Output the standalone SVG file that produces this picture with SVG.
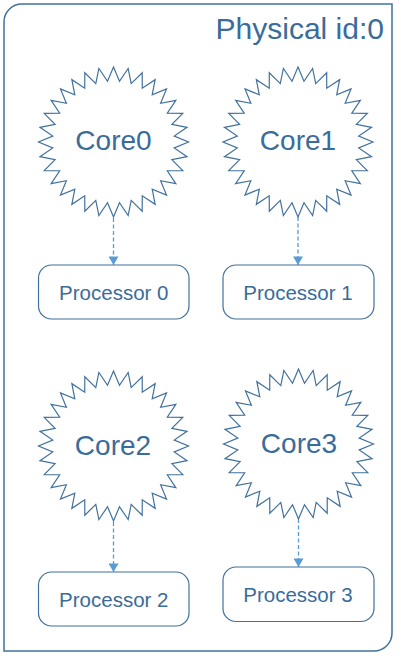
<svg xmlns="http://www.w3.org/2000/svg" width="401" height="659" viewBox="0 0 401 659">
<style>
.frame{fill:#fff;stroke:#41719C;stroke-width:1.5}
.star{fill:#fff;stroke:#41719C;stroke-width:1.2;stroke-linejoin:miter}
.proc{fill:#fff;stroke:#41719C;stroke-width:1.2}
.core-t{font-family:"Liberation Sans",Arial,sans-serif;font-size:28px;fill:#3A6C9B;text-anchor:middle}
.proc-t{font-family:"Liberation Sans",Arial,sans-serif;font-size:20.5px;fill:#3A6C9B;text-anchor:middle}
.title{font-family:"Liberation Sans",Arial,sans-serif;font-size:30px;fill:#3A6C9B;text-anchor:end}
.conn{stroke:#5B9BD5;stroke-width:1.3;stroke-dasharray:4 2.5;fill:none}
</style>
<defs>
<path id="star32" d="M0,-75 L5.98,-60.71 L14.63,-73.56 L17.71,-58.37 L28.70,-69.29 L28.76,-53.80 L41.67,-62.36 L38.70,-47.15 L53.03,-53.03 L47.15,-38.70 L62.36,-41.67 L53.80,-28.76 L69.29,-28.70 L58.37,-17.71 L73.56,-14.63 L60.71,-5.98 L75,0 L60.71,5.98 L73.56,14.63 L58.37,17.71 L69.29,28.70 L53.80,28.76 L62.36,41.67 L47.15,38.70 L53.03,53.03 L38.70,47.15 L41.67,62.36 L28.76,53.80 L28.70,69.29 L17.71,58.37 L14.63,73.56 L5.98,60.71 L0,75 L-5.98,60.71 L-14.63,73.56 L-17.71,58.37 L-28.70,69.29 L-28.76,53.80 L-41.67,62.36 L-38.70,47.15 L-53.03,53.03 L-47.15,38.70 L-62.36,41.67 L-53.80,28.76 L-69.29,28.70 L-58.37,17.71 L-73.56,14.63 L-60.71,5.98 L-75,0 L-60.71,-5.98 L-73.56,-14.63 L-58.37,-17.71 L-69.29,-28.70 L-53.80,-28.76 L-62.36,-41.67 L-47.15,-38.70 L-53.03,-53.03 L-38.70,-47.15 L-41.67,-62.36 L-28.76,-53.80 L-28.70,-69.29 L-17.71,-58.37 L-14.63,-73.56 L-5.98,-60.71 Z"/>
<marker id="arr" markerWidth="10" markerHeight="10" refX="9" refY="5" orient="auto" markerUnits="userSpaceOnUse" viewBox="0 0 10 10">
<path d="M0.5,0 L9,5 L0.5,10 Z" fill="#5B9BD5"/>
</marker>
</defs>

<g id="physical">
<path class="frame" d="M4,22 A18,18 0 0 1 22,4 L392,4 L392,633 A18,18 0 0 1 374,651 L4,651 Z"/>
<text class="title" x="384" y="39">Physical id:0</text>
</g>

<g id="connectors">
<line class="conn" x1="113.5" y1="218" x2="113.5" y2="265" marker-end="url(#arr)"/>
<line class="conn" x1="298" y1="217" x2="298" y2="265" marker-end="url(#arr)"/>
<line class="conn" x1="113.5" y1="522" x2="113.5" y2="572" marker-end="url(#arr)"/>
<line class="conn" x1="298.5" y1="519" x2="298.5" y2="567" marker-end="url(#arr)"/>
</g>

<g id="core0">
<use href="#star32" class="star" transform="translate(113.5,142)"/>
<text class="core-t" x="113.5" y="150">Core0</text>
</g>
<g id="core1">
<use href="#star32" class="star" transform="translate(298,142)"/>
<text class="core-t" x="298" y="150">Core1</text>
</g>
<g id="core2">
<use href="#star32" class="star" transform="translate(113.5,446)"/>
<text class="core-t" x="113" y="455">Core2</text>
</g>
<g id="core3">
<use href="#star32" class="star" transform="translate(298.5,444)"/>
<text class="core-t" x="299" y="453">Core3</text>
</g>

<g id="proc0">
<rect class="proc" x="38.5" y="265" width="150.5" height="54" rx="13"/>
<text class="proc-t" x="113.8" y="299.5">Processor 0</text>
</g>
<g id="proc1">
<rect class="proc" x="223" y="265" width="151" height="54" rx="13"/>
<text class="proc-t" x="298" y="300">Processor 1</text>
</g>
<g id="proc2">
<rect class="proc" x="38.5" y="572" width="150.5" height="54" rx="13"/>
<text class="proc-t" x="113.8" y="606.5">Processor 2</text>
</g>
<g id="proc3">
<rect class="proc" x="223" y="567" width="151" height="54.5" rx="13"/>
<text class="proc-t" x="298" y="601.5">Processor 3</text>
</g>
</svg>
